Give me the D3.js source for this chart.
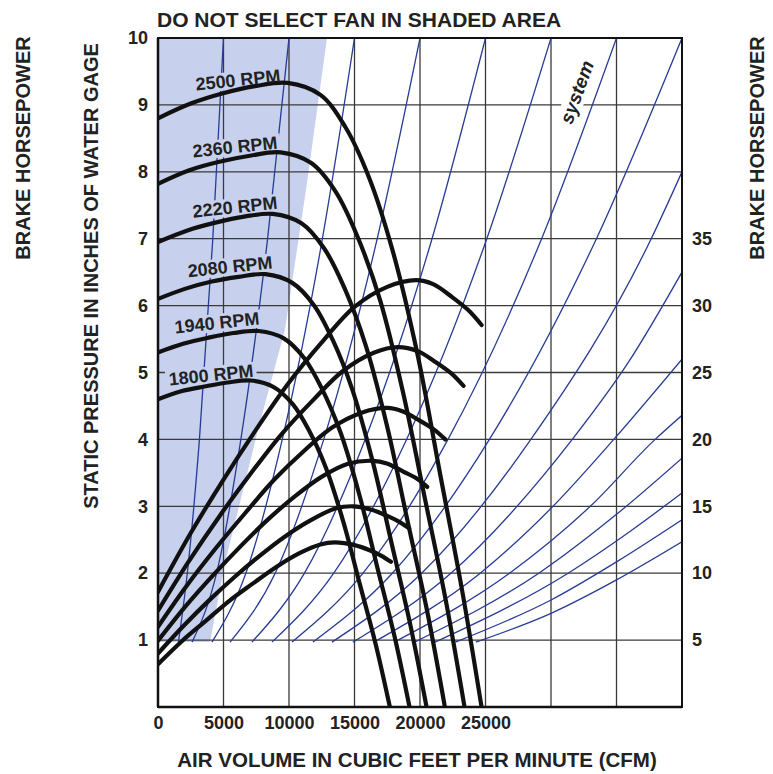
<!DOCTYPE html>
<html><head><meta charset="utf-8">
<script src="https://cdn.jsdelivr.net/npm/d3@7"></script>
<style>
body{margin:0;background:#fff}
text{font-family:"Liberation Sans",Arial,Helvetica,sans-serif;font-weight:bold;fill:#222}
</style>
</head><body>
<svg id="chart" width="773" height="774"></svg>
<script>
// ---------------- DATA ----------------
const titleText = "DO NOT SELECT FAN IN SHADED AREA";
const xTitle = "AIR VOLUME IN CUBIC FEET PER MINUTE (CFM)";
const yTitle = "STATIC PRESSURE IN INCHES OF WATER GAGE";
const bhpTitle = "BRAKE HORSEPOWER";

const xTicks = [0, 5000, 10000, 15000, 20000, 25000];
const xGrid = [5000, 10000, 15000, 20000, 25000, 30000, 35000];
const yTicks = [1, 2, 3, 4, 5, 6, 7, 8, 9, 10];
const yGrid = [1, 2, 3, 4, 5, 6, 7, 8, 9];
const bhpTicks = [5, 10, 15, 20, 25, 30, 35];

const rpms = [2500, 2360, 2220, 2080, 1940, 1800];
const rpmLabels = ["2500 RPM", "2360 RPM", "2220 RPM", "2080 RPM", "1940 RPM", "1800 RPM"];
// label anchor [cfm, static pressure]
const rpmLabelPos = [[6100, 9.37], [5880, 8.37], [5880, 7.47], [5500, 6.58], [4500, 5.74], [4050, 4.96]];

// static pressure curves [cfm, in. w.g.]
const pressure2500 = [[0,8.80],[2500,9.02],[4900,9.17],[7400,9.28],[9900,9.33],[12400,9.15],[14300,8.67],[16100,7.92],[17900,6.83],[19800,5.28],[21500,3.52],[23200,1.76],[24700,0]];
const pressure2360 = [[0,7.82],[2340,8.02],[4680,8.15],[7020,8.24],[9360,8.29],[11700,8.13],[13570,7.70],[15210,7.04],[16970,6.07],[18720,4.69],[20360,3.13],[22000,1.56],[23400,0]];
const pressure2220 = [[0,6.95],[2190,7.12],[4380,7.24],[6570,7.33],[8760,7.37],[10950,7.23],[12700,6.85],[14240,6.26],[15880,5.39],[17520,4.17],[19050,2.78],[20590,1.39],[21900,0]];
const pressure2080 = [[0,6.10],[2050,6.25],[4100,6.36],[6150,6.43],[8200,6.47],[10250,6.34],[11890,6.01],[13330,5.49],[14860,4.73],[16400,3.66],[17840,2.44],[19270,1.22],[20500,0]];
const pressure1940 = [[0,5.30],[1920,5.43],[3840,5.52],[5760,5.59],[7680,5.62],[9600,5.51],[11140,5.22],[12480,4.77],[13920,4.11],[15360,3.18],[16700,2.12],[18050,1.06],[19200,0]];
const pressure1800 = [[0,4.60],[1770,4.72],[3540,4.79],[5310,4.85],[7080,4.88],[8850,4.78],[10270,4.53],[11510,4.14],[12830,3.57],[14160,2.76],[15400,1.84],[16640,0.92],[17700,0]];

// brake horsepower curves [cfm, bhp]
const bhp2500 = [[0,8.6],[2500,13.0],[5000,17.0],[7500,20.75],[10000,24.25],[12500,27.25],[15000,29.9],[17500,31.4],[19700,31.9],[21000,31.6],[22500,30.6],[23700,29.65],[24700,28.55]];
const bhp2360 = [[0,7.2],[2360,10.9],[4720,14.3],[7080,17.45],[9440,20.4],[11800,22.9],[14160,25.15],[16520,26.5],[18300,26.9],[19820,26.6],[21240,25.75],[22370,24.95],[23320,24.0]];
const bhp2220 = [[0,6.0],[2220,9.1],[4440,11.9],[6660,14.5],[8880,17.0],[11100,19.1],[13320,20.9],[15540,22.0],[17490,22.35],[18650,22.1],[19980,21.4],[21050,20.75],[21930,20.0]];
const bhp2080 = [[0,4.95],[2080,7.5],[4160,9.8],[6240,11.95],[8320,13.95],[10400,15.7],[12480,17.2],[14560,18.2],[16390,18.4],[17470,18.2],[18720,17.6],[19720,17.1],[20550,16.45]];
const bhp1940 = [[0,4.0],[1940,6.05],[3880,7.95],[5820,9.7],[7760,11.3],[9700,12.75],[11640,13.95],[13580,14.85],[14900,15.0],[16300,14.75],[17460,14.3],[18390,13.85],[19170,13.35]];
const bhp1800 = [[0,3.2],[1800,4.9],[3600,6.4],[5400,7.9],[7200,9.2],[9000,10.45],[10800,11.5],[12400,12.15],[13500,12.3],[15000,12.1],[16200,11.7],[17060,11.3],[17780,10.85]];

// system resistance curves [cfm, in. w.g.]
const systemCurves = [
  [[1557,.97],[2236,2],[3162,4],[4183,7],[5000,10]],
  [[2600,.97],[4472,2],[6325,4],[8367,7],[10000,10]],
  [[4120,.97],[6708,2],[9487,4],[12550,7],[15000,10]],
  [[5500,.97],[8944,2],[12650,4],[16734,7],[20000,10]],
  [[7170,.97],[11180,2],[15812,4],[20917,7],[25000,10]],
  [[8700,.97],[13416,2],[18975,4],[25100,7],[30000,10]],
  [[10230,.97],[15652,2],[22137,4],[29284,7],[35000,10]],
  [[11830,.97],[17888,2],[25300,4],[33468,7],[40000,10]],
  [[13280,.97],[20124,2],[28462,4],[37651,7],[40000,8.0]],
  [[14880,.97],[22360,2],[31625,4],[36000,5.18],[40000,6.5]],
  [[16480,.97],[24596,2],[30000,2.97],[34787,4],[40000,5.2]],
  [[18030,.97],[26832,2],[33000,3.0],[37950,4],[40000,4.36]],
  [[19590,.97],[29068,2],[35000,2.88],[40000,3.72]],
  [[21150,.97],[31304,2],[36000,2.62],[40000,3.2]],
  [[22700,.97],[30000,1.6],[35000,2.17],[40000,2.8]],
  [[24260,.97],[30000,1.4],[35000,1.9],[40000,2.47]]
];
const systemLabel = "system";
const systemLabelPos = [31980, 9.19];

// shaded "do not select" region boundary [cfm, in. w.g.]
const shadeBoundary = [[0,10],[12900,10],[11350,7.8],[9690,5.64],[7630,4.14],[5110,2.15],[3970,0.97],[0,0.97]];

// ---------------- CHART ----------------
const W = 773, H = 774;
const m = {left:158, right:91, top:38, bottom:67};
const svg = d3.select("#chart");
svg.append("rect").attr("width",W).attr("height",H).attr("fill","#fff");

const x = d3.scaleLinear().domain([0,40000]).range([m.left, W - m.right]);
const y = d3.scaleLinear().domain([0,10]).range([H - m.bottom, m.top]);
const yB = d3.scaleLinear().domain([0,50]).range([H - m.bottom, m.top]);

const shadeColor = "#c7d1ed";
const blue = "#283b95";
const gridColor = "#3a3a3a";

svg.append("clipPath").attr("id","plot").append("rect")
  .attr("x", x(0)).attr("y", y(10)).attr("width", x(40000)-x(0)).attr("height", y(0)-y(10));

const plot = svg.append("g").attr("clip-path","url(#plot)");

// shaded region
plot.append("path")
  .attr("d", d3.line().x(d=>x(d[0])).y(d=>y(d[1])).curve(d3.curveLinear)(shadeBoundary))
  .attr("fill", shadeColor);

// grid
plot.selectAll(".vg").data(xGrid).join("line")
  .attr("x1", d=>x(d)).attr("x2", d=>x(d)).attr("y1", y(0)).attr("y2", y(10))
  .attr("stroke", gridColor).attr("stroke-width", 1.3);
plot.selectAll(".hg").data(yGrid).join("line")
  .attr("x1", x(0)).attr("x2", x(40000)).attr("y1", d=>y(d)).attr("y2", d=>y(d))
  .attr("stroke", gridColor).attr("stroke-width", 1.3);

// system curves
const lineP = d3.line().x(d=>x(d[0])).y(d=>y(d[1])).curve(d3.curveMonotoneX);
plot.selectAll(".sys").data(systemCurves).join("path")
  .attr("d", lineP).attr("fill","none").attr("stroke", blue).attr("stroke-width", 1.3);

// label backgrounds layer
const bgLayer = svg.append("g");
const curveLayer = svg.append("g").attr("clip-path","url(#plot)");
const labelLayer = svg.append("g");

// pressure curves
const pressureSets = [pressure2500, pressure2360, pressure2220, pressure2080, pressure1940, pressure1800];
curveLayer.selectAll(".pc").data(pressureSets).join("path")
  .attr("d", d3.line().x(d=>x(d[0])).y(d=>y(d[1])).curve(d3.curveCatmullRom.alpha(0.5)))
  .attr("fill","none").attr("stroke","#111").attr("stroke-width",4.2).attr("stroke-linecap","round");

// bhp curves
const bhpSets = [bhp2500, bhp2360, bhp2220, bhp2080, bhp1940, bhp1800];
curveLayer.selectAll(".bc").data(bhpSets).join("path")
  .attr("d", d3.line().x(d=>x(d[0])).y(d=>yB(d[1])).curve(d3.curveCatmullRom.alpha(0.5)))
  .attr("fill","none").attr("stroke","#111").attr("stroke-width",4.2).attr("stroke-linecap","round");

// frame
svg.append("rect").attr("x", x(0)).attr("y", y(10)).attr("width", x(40000)-x(0)).attr("height", y(0)-y(10))
  .attr("fill","none").attr("stroke","#111").attr("stroke-width",2);
svg.append("line").attr("x1",x(0)).attr("x2",x(0)).attr("y1",y(10)).attr("y2",y(0)).attr("stroke","#111").attr("stroke-width",2.5);
svg.append("line").attr("x1",x(0)).attr("x2",x(40000)).attr("y1",y(0)).attr("y2",y(0)).attr("stroke","#111").attr("stroke-width",2.5);

// RPM labels
rpmLabels.forEach((t,i)=>{
  const [cx, cy] = [x(rpmLabelPos[i][0]), y(rpmLabelPos[i][1])];
  const tr = `translate(${cx},${cy}) rotate(-6)`;
  const txt = labelLayer.append("text").attr("transform", tr)
    .attr("text-anchor","middle").attr("dominant-baseline","central")
    .attr("font-size",18).text(t);
  const bb = txt.node().getBBox();
  bgLayer.append("rect").attr("transform", tr)
    .attr("x", bb.x-3).attr("y", bb.y+1).attr("width", bb.width+6).attr("height", bb.height-2)
    .attr("fill", shadeColor);
});
// system label
{
  const tr = `translate(${x(systemLabelPos[0])},${y(systemLabelPos[1])}) rotate(-70)`;
  const txt = labelLayer.append("text").attr("transform", tr)
    .attr("text-anchor","middle").attr("dominant-baseline","central")
    .attr("font-size",19).attr("font-style","italic").attr("font-weight","normal").text(systemLabel);
  const bb = txt.node().getBBox();
  bgLayer.append("rect").attr("transform", tr)
    .attr("x", bb.x-3).attr("y", bb.y).attr("width", bb.width+6).attr("height", bb.height)
    .attr("fill", "#fff");
}

// axes
const ax = svg.append("g").attr("transform",`translate(0,${y(0)})`)
  .call(d3.axisBottom(x).tickValues(xTicks).tickSize(0).tickPadding(9).tickFormat(d3.format("d")));
const ayl = svg.append("g").attr("transform",`translate(${x(0)},0)`)
  .call(d3.axisLeft(y).tickValues(yTicks).tickSize(0).tickPadding(10));
const ayr = svg.append("g").attr("transform",`translate(${x(40000)},0)`)
  .call(d3.axisRight(yB).tickValues(bhpTicks).tickSize(0).tickPadding(10));
[ax, ayl, ayr].forEach(g=>{
  g.select(".domain").remove();
  g.selectAll("text").attr("font-size",18).attr("fill","#222")
    .style("font-family","'Liberation Sans',Arial,sans-serif").style("font-weight","bold");
});

// titles
svg.append("text").attr("x",157).attr("y",27).attr("font-size",21).text(titleText);
svg.append("text").attr("x",(x(0)+x(40000))/2 - 3).attr("y",767).attr("text-anchor","middle")
  .attr("font-size",20.5).text(xTitle);
svg.append("text").attr("transform","translate(91,276) rotate(-90)").attr("text-anchor","middle")
  .attr("dominant-baseline","central").attr("font-size",20).text(yTitle);
svg.append("text").attr("transform","translate(23,148) rotate(-90)").attr("text-anchor","middle")
  .attr("dominant-baseline","central").attr("font-size",20).text(bhpTitle);
svg.append("text").attr("transform","translate(757,148) rotate(-90)").attr("text-anchor","middle")
  .attr("dominant-baseline","central").attr("font-size",20).text(bhpTitle);
</script>
</body></html>
